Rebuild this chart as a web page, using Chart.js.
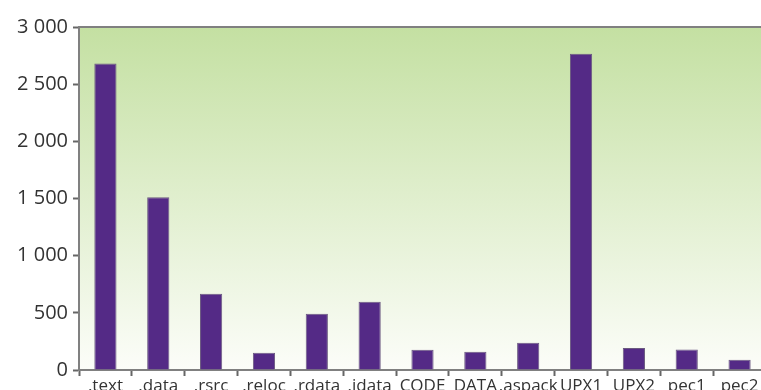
<!DOCTYPE html>
<html>
<head>
<meta charset="utf-8">
<script src="https://cdn.jsdelivr.net/npm/chart.js@4/dist/chart.umd.min.js"></script>
<style>
    html, body { margin: 0; padding: 0; background: #fff; overflow: hidden; }
    #wrap { width: 761px; height: 390px; overflow: hidden; position: relative; }
</style>
</head>
<body>
<div id="wrap"><canvas id="sections" width="766" height="400"></canvas></div>
<script>
var sectionNames = ['.text', '.data', '.rsrc', '.reloc', '.rdata', '.idata', 'CODE', 'DATA', '.aspack', 'UPX1', 'UPX2', 'pec1', 'pec2'];
var sectionCounts = [2680, 1512, 668, 150, 492, 598, 178, 160, 238, 2765, 192, 180, 90];
var yTicks = [0, 500, 1000, 1500, 2000, 2500, 3000];

var greenBackground = {
    id: 'greenBackground',
    beforeDraw: function (chart) {
        var ctx = chart.ctx;
        var a = chart.chartArea;
        var g = ctx.createLinearGradient(0, a.top, 0, a.bottom);
        g.addColorStop(0, '#c4e0a2');
        g.addColorStop(0.55, '#e3f0d2');
        g.addColorStop(1, '#fcfdf9');
        ctx.save();
        ctx.fillStyle = g;
        ctx.fillRect(a.left, a.top, a.right - a.left, a.bottom - a.top);
        ctx.strokeStyle = '#808080';
        ctx.lineWidth = 2;
        ctx.beginPath();
        ctx.moveTo(a.left, a.top);
        ctx.lineTo(chart.width, a.top);
        ctx.stroke();
        ctx.restore();
    }
};

var formatThousands = function (v) {
    return String(v).replace(/\B(?=(\d{3})+(?!\d))/g, ' ');
};

new Chart(document.getElementById('sections').getContext('2d'), {
    type: 'bar',
    data: {
        labels: sectionNames,
        datasets: [{
            data: sectionCounts,
            backgroundColor: '#542a86',
            borderColor: '#6b5a80',
            borderWidth: 1,
            barPercentage: 0.84,
            categoryPercentage: 0.5
        }]
    },
    options: {
        responsive: false,
        animation: false,
        layout: { padding: { top: 27, left: 0, right: 0, bottom: 0 } },
        plugins: {
            legend: { display: false },
            tooltip: { enabled: false }
        },
        scales: {
            x: {
                offset: true,
                afterFit: function (s) { s.height = 30; },
                grid: {
                    offset: true,
                    drawOnChartArea: false,
                    tickLength: 6,
                    tickWidth: 2,
                    color: '#666'
                },
                border: { color: '#808080', width: 2 },
                ticks: {
                    color: '#333',
                    padding: 0,
                    maxRotation: 0,
                    autoSkip: false,
                    font: { family: 'Open Sans', size: 17 }
                }
            },
            y: {
                min: 0,
                max: 3000,
                afterFit: function (s) { s.width = 79; },
                afterBuildTicks: function (s) {
                    s.ticks = yTicks.map(function (v) { return { value: v }; });
                },
                grid: {
                    drawOnChartArea: false,
                    tickLength: 6,
                    tickWidth: 2,
                    color: '#666'
                },
                border: { color: '#808080', width: 2 },
                ticks: {
                    color: '#333',
                    padding: 5,
                    font: { family: 'Open Sans', size: 20 },
                    callback: function (v) { return formatThousands(v); }
                }
            }
        }
    },
    plugins: [greenBackground]
});
</script>
</body>
</html>
